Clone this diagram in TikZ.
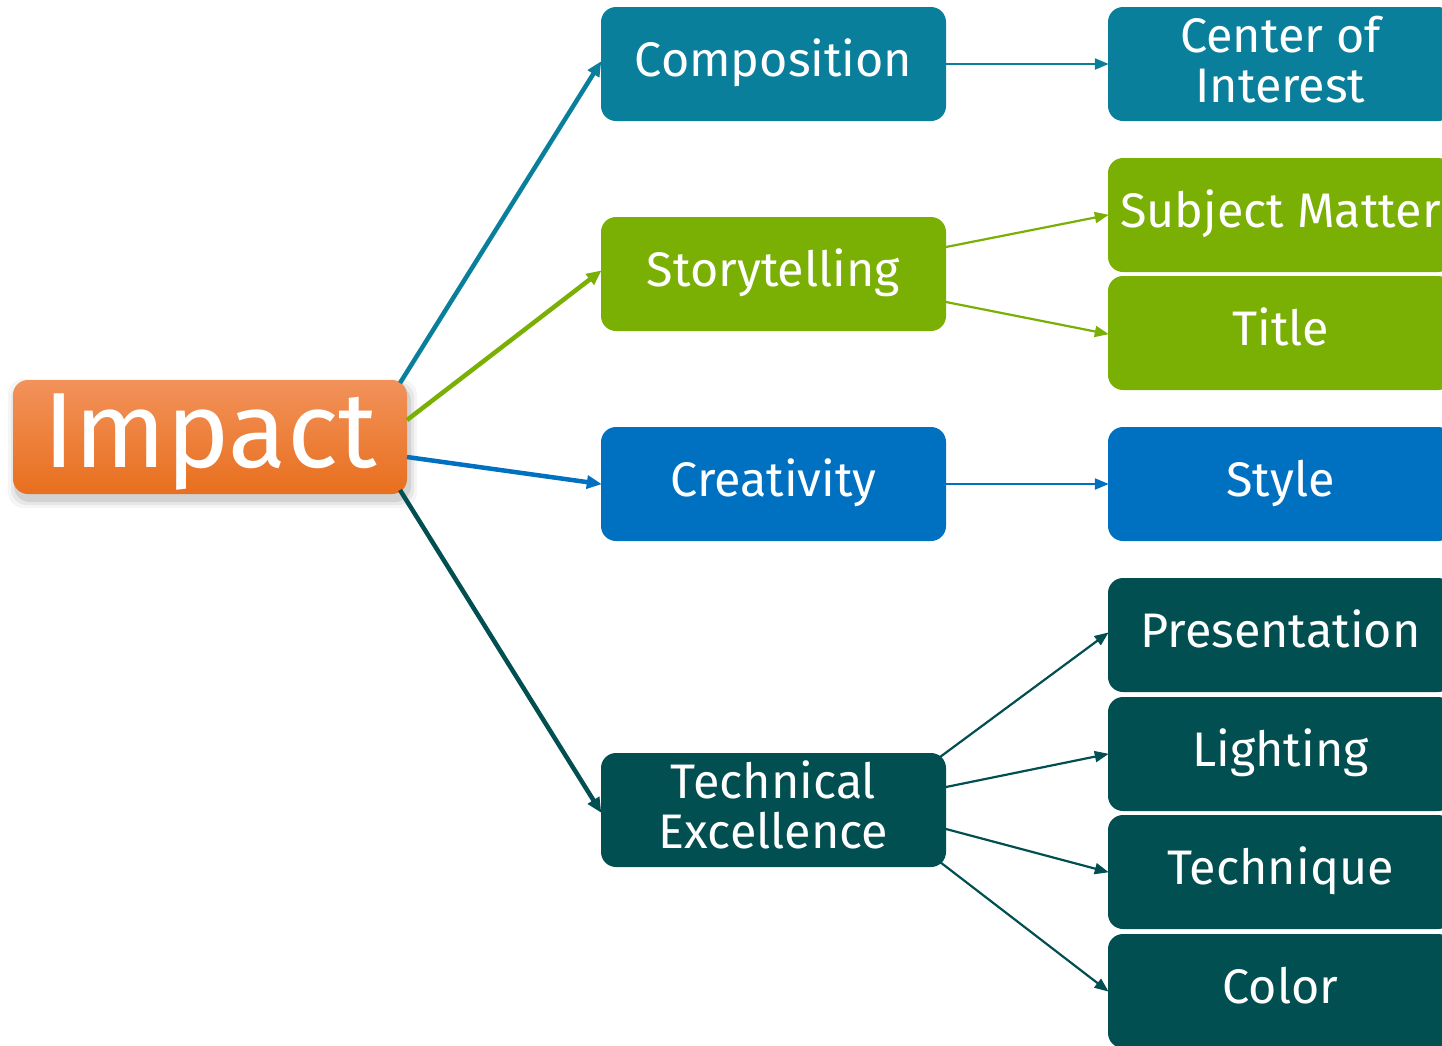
\documentclass[tikz,border=0pt]{standalone}
\usepackage{fontspec}
\setmainfont{Fira Sans}
\usetikzlibrary{arrows.meta,shadows,calc}
\definecolor{cteal}{HTML}{0A7F9B}
\definecolor{cgreen}{HTML}{7AAF04}
\definecolor{cblue}{HTML}{0070C0}
\definecolor{cdark}{HTML}{024F52}
\definecolor{otop}{HTML}{F2925A}
\definecolor{obot}{HTML}{E86F1E}
\begin{document}
\begin{tikzpicture}[x=1pt,y=-1pt,
  box/.style={rounded corners=15pt, minimum width=345pt, minimum height=114pt, inner sep=0pt,
    text=white, align=center, font=\fontsize{48.5}{50}\selectfont},
  oneline/.style={box, text height=36pt, text depth=12pt},
  twoline/.style={box, text height=87pt, text depth=11pt},
  bigarrow/.style={line width=4.5pt, -{Triangle[length=15pt,width=13pt]}, shorten >=-1pt},
  smallarrow/.style={line width=2.2pt, -{Triangle[length=14pt,width=11pt]}, shorten >=-1pt}]
\path[use as bounding box, clip] (0,0) rectangle (1442,1045);
% shadow of Impact
\foreach \o/\e in {0.04/8,0.06/5,0.09/2}{
  \fill[black, opacity=\o, rounded corners=16pt] (13-\e+3,380-\e+7) rectangle (407+\e+2,494+\e+6);
}
\node[rounded corners=15pt, minimum width=394pt, minimum height=114pt, inner sep=0pt,
  top color=otop, bottom color=obot, draw=none, text=white, text height=70pt, text depth=10pt,
  font=\fontsize{107}{110}\selectfont] (impact) at (210,437) {Impact};
% middle column
\node[oneline, fill=cteal]  (comp) at (773.5,64)  {Composition};
\node[oneline, fill=cgreen] (st)   at (773.5,274) {Storytelling};
\node[oneline, fill=cblue]  (cr)   at (773.5,484) {Creativity};
\node[twoline, fill=cdark]  (te)   at (773.5,810) {Technical\\Excellence};
% right column
\node[twoline, fill=cteal]  (coi) at (1280.5,64)  {Center of\\Interest};
\node[oneline, fill=cgreen] (sm)  at (1280.5,215) {Subject Matter};
\node[oneline, fill=cgreen] (ti)  at (1280.5,333) {Title};
\node[oneline, fill=cblue]  (sty) at (1280.5,484) {Style};
\node[oneline, fill=cdark]  (pr)  at (1280.5,635) {Presentation};
\node[oneline, fill=cdark]  (li)  at (1280.5,754) {Lighting};
\node[oneline, fill=cdark]  (tq)  at (1280.5,872) {Technique};
\node[oneline, fill=cdark]  (co)  at (1280.5,991) {Color};
% first level arrows
\draw[bigarrow, cteal]  ([shift={(190,-54)}]impact.center) -- ([yshift=2pt]comp.west);
\draw[bigarrow, cgreen] ([shift={(197,-17)}]impact.center) -- ([yshift=3pt]st.west);
\draw[bigarrow, cblue]  ([shift={(197,20)}]impact.center) -- (cr.west);
\draw[bigarrow, cdark]  ([shift={(190,53)}]impact.center) -- ([yshift=-2pt]te.west);
% second level arrows
\draw[smallarrow, cteal]  (comp.east) -- (coi.west);
\draw[smallarrow, cgreen] ([shift={(172.5,-27)}]st.center) -- (sm.west);
\draw[smallarrow, cgreen] ([shift={(172.5,28)}]st.center) -- ([yshift=-1pt]ti.west);
\draw[smallarrow, cblue]  (cr.east) -- (sty.west);
\draw[smallarrow, cdark]  ([shift={(166.5,-53)}]te.center) -- ([yshift=2pt]pr.west);
\draw[smallarrow, cdark]  ([shift={(172.5,-23)}]te.center) -- (li.west);
\draw[smallarrow, cdark]  ([shift={(172.5,19)}]te.center) -- (tq.west);
\draw[smallarrow, cdark]  ([shift={(166.5,52)}]te.center) -- (co.west);
\end{tikzpicture}
\end{document}
